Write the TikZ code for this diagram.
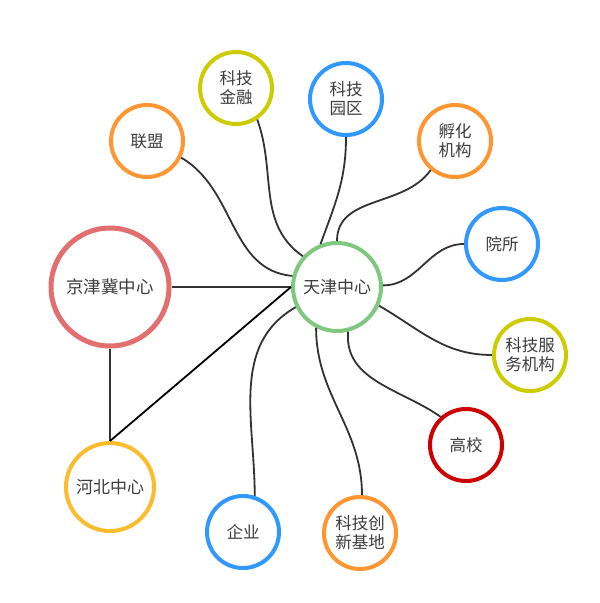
\documentclass[tikz,border=0pt]{standalone}
\usepackage{fontspec}
\usepackage{xcolor}
\usepackage{tikz}
\usetikzlibrary{positioning, calc}
\newfontfamily\cjk{Noto Sans CJK SC}
\definecolor{hubgreen}{RGB}{128, 200, 128}
\definecolor{regionred}{RGB}{226, 110, 112}
\definecolor{hebeiyellow}{RGB}{252, 188, 44}
\definecolor{partblue}{RGB}{48, 152, 255}
\definecolor{partorange}{RGB}{255, 150, 50}
\definecolor{partolive}{RGB}{204, 204, 0}
\definecolor{partred}{RGB}{204, 0, 0}
\definecolor{textgray}{RGB}{60, 60, 60}
\definecolor{linkgray}{RGB}{50, 50, 50}

\tikzset{
    topic/.style={circle, draw=#1, line width=4pt, fill=white, minimum size=72pt,
                  inner sep=0pt, align=center, text=textgray,
                  font=\cjk\fontsize{16.5}{19}\selectfont},
    link/.style={draw=linkgray, line width=1.8pt},
}

\begin{document}
\begin{tikzpicture}[x=1pt, y=-1pt]
    \useasboundingbox (0,0) rectangle (600,603);

    % centres
    \node[topic=hubgreen, minimum size=88pt, font=\cjk\fontsize{17}{19}\selectfont] (tianjin) at (337,287) {天津中心};
    \node[topic=regionred, minimum size=118pt, line width=5pt, font=\cjk\fontsize{17.5}{19}\selectfont] (jingjinji) at (110,287) {京津冀中心};
    \node[topic=hebeiyellow, minimum size=88pt, font=\cjk\fontsize{17}{19}\selectfont] (hebei) at (110,487) {河北中心};

    % partners round Tianjin
    \node[topic=partorange] (lianmeng) at (147,141) {联盟};
    \node[topic=partolive] (jinrong) at (236,88) {科技\\金融};
    \node[topic=partblue] (yuanqu) at (346,99) {科技\\园区};
    \node[topic=partorange] (fuhua) at (455,141) {孵化\\机构};
    \node[topic=partblue] (yuansuo) at (502,244) {院所};
    \node[topic=partolive] (fuwu) at (530,355) {科技服\\务机构};
    \node[topic=partred] (gaoxiao) at (466,445) {高校};
    \node[topic=partorange] (jidi) at (360,533) {科技创\\新基地};
    \node[topic=partblue] (qiye) at (243,532) {企业};

    \draw[link] (jingjinji.east) -- (tianjin.west);
    \draw[link] (jingjinji.south) -- (hebei.north);
    \draw[link, draw=black] (hebei.north) -- (tianjin.west);

    \draw[link] (lianmeng.-26) to[out=-30, in=175] (tianjin.166);
    \draw[link] (jinrong.-56) to[out=-70, in=145] (tianjin.138);
    \draw[link] (yuanqu.-90) to[out=-90, in=70] (tianjin.111);
    \draw[link] (fuhua.-130) to[out=-125, in=90] (tianjin.90);
    \draw[link] (yuansuo.180) to[out=180, in=0] (tianjin.2);
    \draw[link] (fuwu.180) to[out=180, in=-30] (tianjin.-24);
    \draw[link] (gaoxiao.132) to[out=145, in=-95] (tianjin.-76);
    \draw[link] (jidi.87) to[out=90, in=-90] (tianjin.-117);
    \draw[link] (qiye.72) to[out=90, in=210] (tianjin.-154);
\end{tikzpicture}
\end{document}
